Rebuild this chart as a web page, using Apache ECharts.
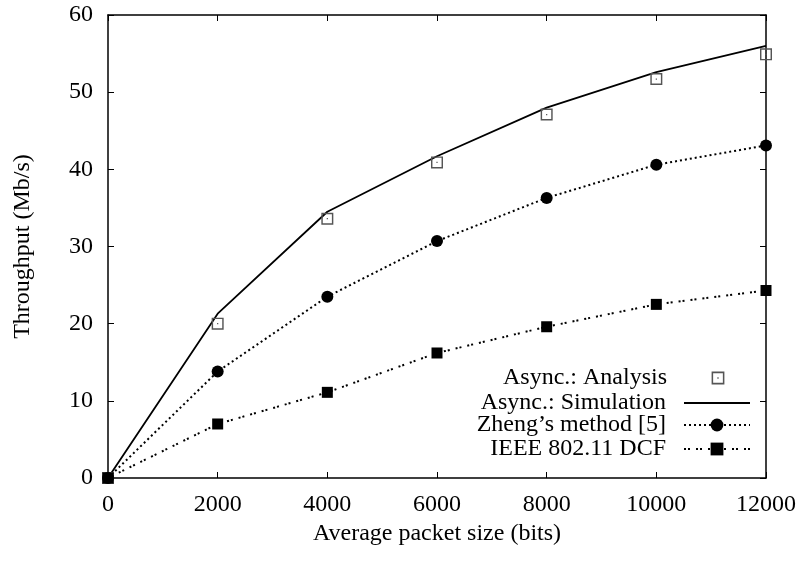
<!DOCTYPE html>
<html>
<head>
<meta charset="UTF-8">
<title>Throughput</title>
<script src="https://cdn.jsdelivr.net/npm/echarts@6/dist/echarts.min.js"></script>
<style>
  html, body { margin: 0; padding: 0; background: #fff; }
  #main { width: 803px; height: 561px; }
</style>
</head>
<body>
<div id="main"></div>
<script>
// packet sizes (bits)
var sizes = [0, 2000, 4000, 6000, 8000, 10000, 12000];
// throughput values (Mb/s)
var analysis = [0, 20.0, 33.6, 40.9, 47.1, 51.7, 54.9];
var simulation = [0, 21.3, 34.5, 41.7, 48.0, 52.6, 56.0];
var zheng = [0, 13.8, 23.5, 30.7, 36.3, 40.6, 43.1];
var dcf = [0, 7.0, 11.1, 16.2, 19.6, 22.5, 24.3];
var names = ['Async.: Analysis', 'Async.: Simulation', "Zheng\u2019s method [5]", 'IEEE 802.11 DCF'];

function pairs(ys) {
  return sizes.map(function (x, i) { return [x, ys[i]]; });
}

// open square with a dot in the middle
var boxDot = 'path://M0,0 L10,0 L10,10 L0,10 Z M1.2,1.2 L1.2,8.8 L8.8,8.8 L8.8,1.2 Z M4.5,4.5 L5.5,4.5 L5.5,5.5 L4.5,5.5 Z';

var font = '"Liberation Serif", "DejaVu Serif", serif';

function legendRow(item, top) {
  return {
    data: [item],
    right: 52,
    top: top,
    align: 'right',
    itemWidth: 66,
    itemHeight: 16,
    padding: 0,
    selectedMode: false,
    textStyle: { fontFamily: font, fontSize: 24, color: '#000', padding: [0, 13, 0, 0] }
  };
}

function plain(v) { return String(v); }

var myChart = echarts.init(document.getElementById('main'));
var option = {
  animation: false,
  backgroundColor: '#fff',
  grid: { left: 108, right: 37, top: 15, bottom: 83 },
  legend: [
    legendRow(names[0], 366),
    legendRow({ name: names[1], itemStyle: { opacity: 0 } }, 391),
    legendRow(names[2], 413),
    legendRow(names[3], 437)
  ],
  xAxis: [{
    type: 'value', min: 0, max: 12000, interval: 2000,
    name: 'Average packet size (bits)', nameLocation: 'middle', nameGap: 41,
    nameTextStyle: { fontFamily: font, fontSize: 24, color: '#000' },
    axisLine: { onZero: false, lineStyle: { color: '#000', width: 1.5 } },
    axisTick: { inside: true, length: 6, lineStyle: { color: '#000' } },
    axisLabel: { fontFamily: font, fontSize: 24, color: '#000', margin: 15, formatter: plain },
    splitLine: { show: false }
  }, {
    type: 'value', position: 'top', min: 0, max: 12000, interval: 2000,
    axisLine: { show: true, onZero: false, lineStyle: { color: '#000', width: 1.5 } },
    axisTick: { show: true, inside: true, length: 6, lineStyle: { color: '#000' } },
    axisLabel: { show: false },
    splitLine: { show: false }
  }],
  yAxis: [{
    type: 'value', min: 0, max: 60, interval: 10,
    name: 'Throughput (Mb/s)', nameLocation: 'middle', nameGap: 73,
    nameTextStyle: { fontFamily: font, fontSize: 24, color: '#000' },
    axisLine: { show: true, onZero: false, lineStyle: { color: '#000', width: 1.5 } },
    axisTick: { show: true, inside: true, length: 6, lineStyle: { color: '#000' } },
    axisLabel: { fontFamily: font, fontSize: 24, color: '#000', margin: 15, formatter: plain },
    splitLine: { show: false }
  }, {
    type: 'value', position: 'right', min: 0, max: 60, interval: 10,
    axisLine: { show: true, onZero: false, lineStyle: { color: '#000', width: 1.5 } },
    axisTick: { show: true, inside: true, length: 6, lineStyle: { color: '#000' } },
    axisLabel: { show: false },
    splitLine: { show: false }
  }],
  series: [{
    name: names[1], type: 'line', data: pairs(simulation),
    showSymbol: false, symbol: 'none', z: 2,
    lineStyle: { color: '#000', width: 1.8 },
    itemStyle: { color: '#000' }
  }, {
    name: names[0], type: 'line', data: pairs(analysis),
    symbol: boxDot, symbolSize: 12, z: 3,
    lineStyle: { width: 0, opacity: 0 },
    itemStyle: { color: '#555', opacity: 1 }
  }, {
    name: names[2], type: 'line', data: pairs(zheng),
    symbol: 'circle', symbolSize: 12, z: 4,
    lineStyle: { color: '#000', width: 2, type: [2, 3] },
    itemStyle: { color: '#000' }
  }, {
    name: names[3], type: 'line', data: pairs(dcf),
    symbol: 'rect', symbolSize: 11, z: 4,
    lineStyle: { color: '#000', width: 2, type: [2, 2, 2, 6] },
    itemStyle: { color: '#000' }
  }]
};
myChart.setOption(option);
</script>
</body>
</html>
